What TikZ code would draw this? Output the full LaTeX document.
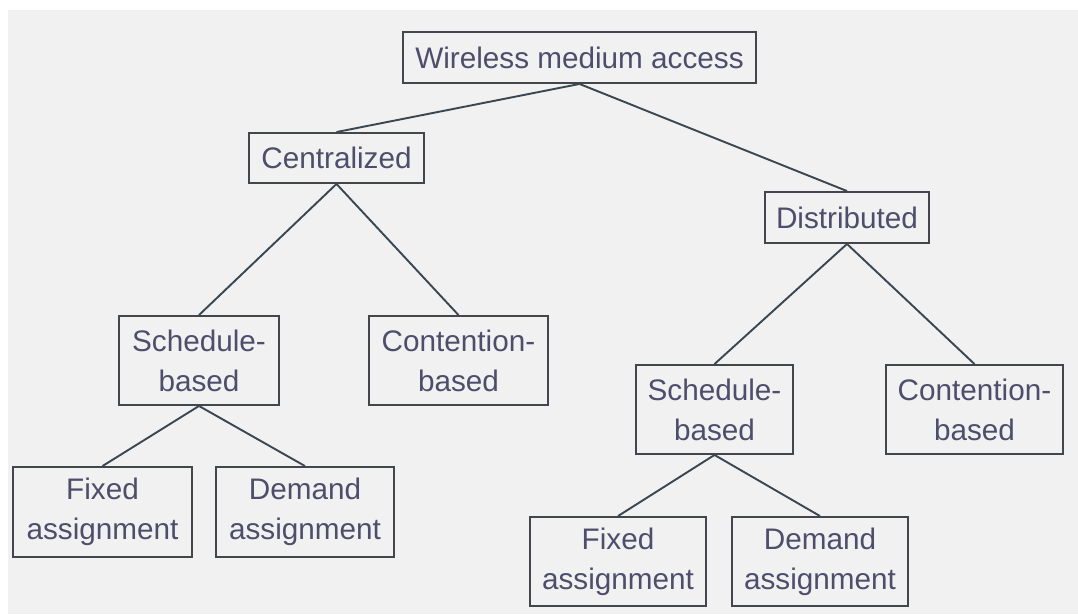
\documentclass[tikz,border=0pt]{standalone}
\usepackage{fontspec}
\setmainfont{Liberation Sans}
\definecolor{bgc}{HTML}{F1F1F1}
\definecolor{txt}{HTML}{4E4E6C}
\definecolor{brd}{HTML}{43474C}
\definecolor{lnc}{HTML}{3A4650}
\begin{document}
\begin{tikzpicture}[x=1pt,y=-1pt,
  box/.style={draw=brd,line width=1.9pt,fill=bgc,rectangle,inner sep=0pt,
    text=txt,align=center,font=\fontsize{29.7}{40}\selectfont},
  link/.style={draw=lnc,line width=1.9pt}]
\useasboundingbox (0,0) rectangle (1078,614);
\fill[white] (0,0) rectangle (1078,614);
\fill[bgc] (8,10) rectangle (1078,614);
\node[box,minimum width=353pt,minimum height=51pt] (W) at (579.5,57.5) {Wireless medium access};
\node[box,minimum width=175pt,minimum height=50pt] (C) at (336.5,158) {Centralized};
\node[box,minimum width=164pt,minimum height=51pt] (D) at (847,217.5) {Distributed};
\node[box,minimum width=160pt,minimum height=89pt] (LS) at (199,360.5) {Schedule-\\based};
\node[box,minimum width=179pt,minimum height=89pt] (LC) at (458.5,360.5) {Contention-\\based};
\node[box,minimum width=179pt,minimum height=90pt] (LF) at (102.5,512) {Fixed\\assignment};
\node[box,minimum width=178pt,minimum height=90pt] (LD) at (305,512) {Demand\\assignment};
\node[box,minimum width=157pt,minimum height=89pt] (RS) at (714.5,409.5) {Schedule-\\based};
\node[box,minimum width=177pt,minimum height=89pt] (RC) at (974.5,409.5) {Contention-\\based};
\node[box,minimum width=176pt,minimum height=89pt] (RF) at (618,561.5) {Fixed\\assignment};
\node[box,minimum width=176pt,minimum height=89pt] (RD) at (820,561.5) {Demand\\assignment};
\draw[link] (W.south) -- (C.north);
\draw[link] (W.south) -- (D.north);
\draw[link] (C.south) -- (LS.north);
\draw[link] (C.south) -- (LC.north);
\draw[link] (LS.south) -- (LF.north);
\draw[link] (LS.south) -- (LD.north);
\draw[link] (D.south) -- (RS.north);
\draw[link] (D.south) -- (RC.north);
\draw[link] (RS.south) -- (RF.north);
\draw[link] (RS.south) -- (RD.north);
\end{tikzpicture}
\end{document}
